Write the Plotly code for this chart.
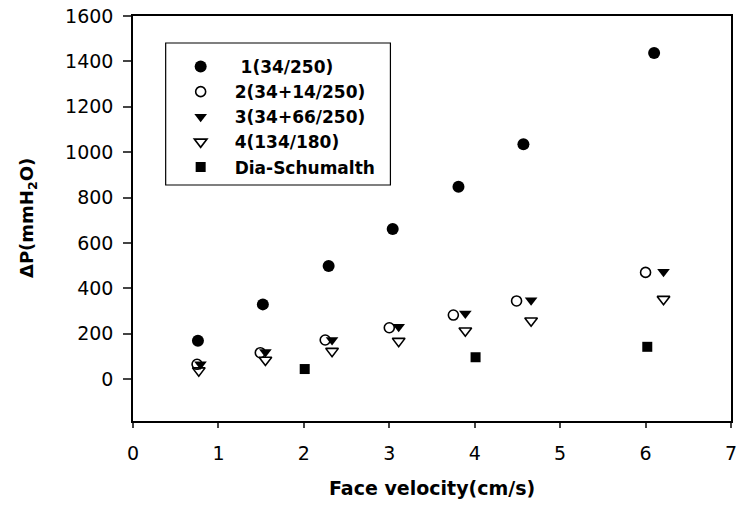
import plotly.graph_objects as go

x1 = [0.76, 1.52, 2.29, 3.04, 3.81, 4.57, 6.10]
y1 = [169, 329, 498, 661, 847, 1035, 1437]
x2 = [0.75, 1.49, 2.25, 3.00, 3.75, 4.49, 6.00]
y2 = [65, 116, 172, 226, 282, 344, 470]
x3 = [0.79, 1.55, 2.33, 3.11, 3.89, 4.66, 6.21]
y3 = [65, 119, 172, 230, 289, 347, 473]
x4 = [0.77, 1.55, 2.33, 3.11, 3.89, 4.66, 6.21]
y4 = [37, 84, 123, 167, 213, 257, 352]
x5 = [2.01, 4.01, 6.02]
y5 = [44, 96, 142]
names = ["1(34/250)", "2(34+14/250)", "3(34+66/250)", "4(134/180)", "Dia-Schumalth"]
xticks = [0, 1, 2, 3, 4, 5, 6, 7]
yticks = [0, 200, 400, 600, 800, 1000, 1200, 1400, 1600]

FONT = "DejaVu Sans, Arial, sans-serif"
L, R, T, B = 133, 4, 16, 84
W, H = 741 - L - R, 505 - T - B

def px_x(p):
    return (p - L) / W

def px_y(p):
    return (505 - B - p) / H

fig = go.Figure()
specs = [
    (x1, y1, " " + names[0], dict(symbol="circle", size=12, color="black")),
    (x2, y2, names[1], dict(symbol="circle-open", size=10, color="black", line=dict(width=1.6))),
    (x3, y3, names[2], dict(symbol="triangle-down", size=11, color="black")),
    (x4, y4, names[3], dict(symbol="triangle-down-open", size=11, color="black", line=dict(width=1.6))),
    (x5, y5, names[4], dict(symbol="square", size=10, color="black")),
]
for i, (xs, ys, nm, mk) in enumerate(specs):
    fig.add_trace(go.Scatter(x=xs, y=ys, mode="markers", name=nm, marker=mk,
                             legendgroup=f"g{i}"))

fig.update_layout(
    width=741, height=505,
    margin=dict(l=L, r=R, t=T, b=B),
    plot_bgcolor="white", paper_bgcolor="white",
    font=dict(family=FONT, size=19, color="black"),
    showlegend=True,
    legend=dict(x=px_x(167), y=px_y(49), xanchor="left", yanchor="top",
                borderwidth=0, bgcolor="rgba(0,0,0,0)",
                font=dict(family=FONT, size=17, color="black", weight="bold"),
                itemwidth=58, tracegroupgap=0),
    xaxis=dict(range=[0, 7], tickvals=xticks, ticks="outside", ticklen=5, tickwidth=1.5,
               showline=True, linecolor="black", linewidth=1.5, mirror=True,
               showgrid=False, zeroline=False, tickfont=dict(size=19),
               ticklabelstandoff=9, ticklabeloverflow="allow"),
    yaxis=dict(range=[-185, 1600], tickvals=yticks,
               ticks="outside", ticklen=8, tickwidth=1.5,
               showline=True, linecolor="black", linewidth=1.5, mirror=True,
               showgrid=False, zeroline=False, tickfont=dict(size=19),
               ticklabelstandoff=6, ticklabeloverflow="allow"),
    shapes=[dict(type="rect", xref="paper", yref="paper",
                 x0=px_x(166), x1=px_x(393), y0=px_y(185), y1=px_y(43),
                 line=dict(color="black", width=1.2), fillcolor="rgba(0,0,0,0)")],
    annotations=[
        dict(text="<b>Face velocity(cm/s)</b>", xref="paper", yref="paper",
             x=0.5, y=px_y(488), showarrow=False,
             font=dict(size=19), xanchor="center", yanchor="middle"),
        dict(text="<b>ΔP(mmH<sub>2</sub>O)</b>", xref="paper", yref="paper",
             x=px_x(27), y=px_y(218), showarrow=False, textangle=-90,
             font=dict(size=18), xanchor="center", yanchor="middle"),
    ],
)
fig.write_html("out.html")
